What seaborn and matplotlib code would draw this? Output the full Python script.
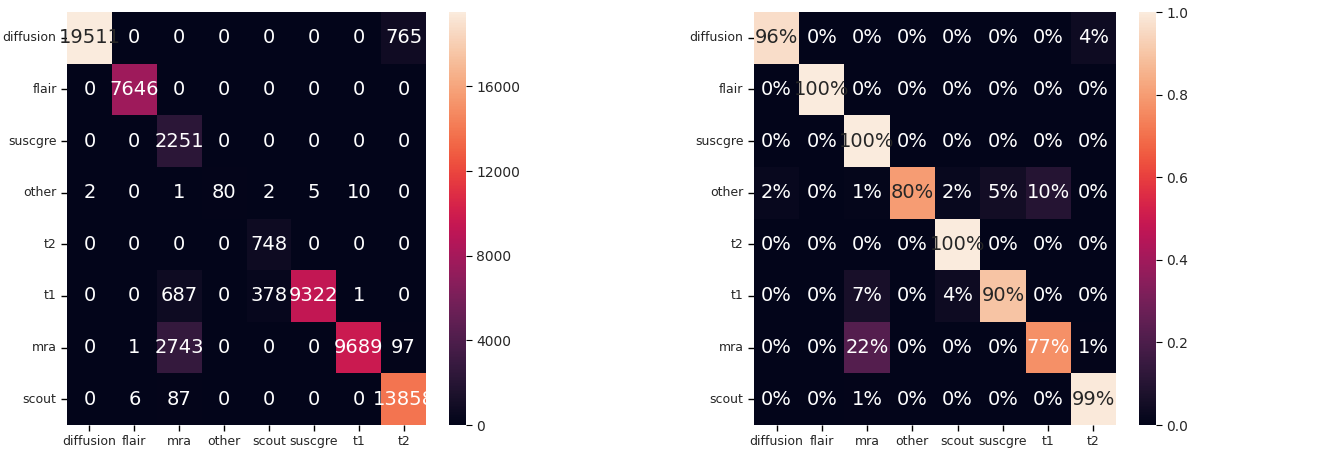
import numpy as np
import pandas as pd
import matplotlib
matplotlib.use("Agg")
import matplotlib.pyplot as plt
import seaborn as sns

# Confusion matrix of scan-type predictions
row_labels = ["diffusion", "flair", "suscgre", "other", "t2", "t1", "mra", "scout"]
col_labels = ["diffusion", "flair", "mra", "other", "scout", "suscgre", "t1", "t2"]

row_diffusion = [19511, 0, 0, 0, 0, 0, 0, 765]
row_flair = [0, 7646, 0, 0, 0, 0, 0, 0]
row_suscgre = [0, 0, 2251, 0, 0, 0, 0, 0]
row_other = [2, 0, 1, 80, 2, 5, 10, 0]
row_t2 = [0, 0, 0, 0, 748, 0, 0, 0]
row_t1 = [0, 0, 687, 0, 378, 9322, 1, 0]
row_mra = [0, 1, 2743, 0, 0, 0, 9689, 97]
row_scout = [0, 6, 87, 0, 0, 0, 0, 13858]

count_ticks = [0, 4000, 8000, 12000, 16000]
frac_ticks = [0.0, 0.2, 0.4, 0.6, 0.8, 1.0]

counts = pd.DataFrame(
    [row_diffusion, row_flair, row_suscgre, row_other,
     row_t2, row_t1, row_mra, row_scout],
    index=row_labels, columns=col_labels,
)
# Row-normalised version (share of each true class)
fractions = counts.div(counts.sum(axis=1), axis=0)

sns.set_style("white")
plt.rcParams["font.family"] = ["DejaVu Sans"]
tick_size, annot_size = 9, 14

fig = plt.figure(figsize=(13.38, 4.55), dpi=100)
ax1 = fig.add_axes([0.0501, 0.0659, 0.2683, 0.9077])
cax1 = fig.add_axes([0.3356, 0.0659, 0.0127, 0.9077])
ax2 = fig.add_axes([0.5635, 0.0659, 0.2706, 0.9077])
cax2 = fig.add_axes([0.8513, 0.0659, 0.0127, 0.9077])

annot_kw = {"fontsize": annot_size}

sns.heatmap(counts, ax=ax1, cbar_ax=cax1, annot=True, fmt="d",
            annot_kws=annot_kw, cmap="rocket",
            cbar_kws={"ticks": count_ticks})
sns.heatmap(fractions, ax=ax2, cbar_ax=cax2, annot=True, fmt=".0%",
            annot_kws=annot_kw, cmap="rocket", vmin=0, vmax=1,
            cbar_kws={"ticks": frac_ticks})
cax2.set_yticklabels([f"{t:.1f}" for t in frac_ticks])

for ax in (ax1, ax2):
    ax.tick_params(axis="both", which="both", length=4, width=1,
                   labelsize=tick_size, left=True, bottom=True, color="black")
    plt.setp(ax.get_yticklabels(), rotation=0)
    plt.setp(ax.get_xticklabels(), rotation=0)
    ax.set_xlabel("")
    ax.set_ylabel("")

for cax in (cax1, cax2):
    cax.tick_params(labelsize=tick_size + 1, length=4, right=True, color="black")

fig.savefig("out.png", dpi=100)
